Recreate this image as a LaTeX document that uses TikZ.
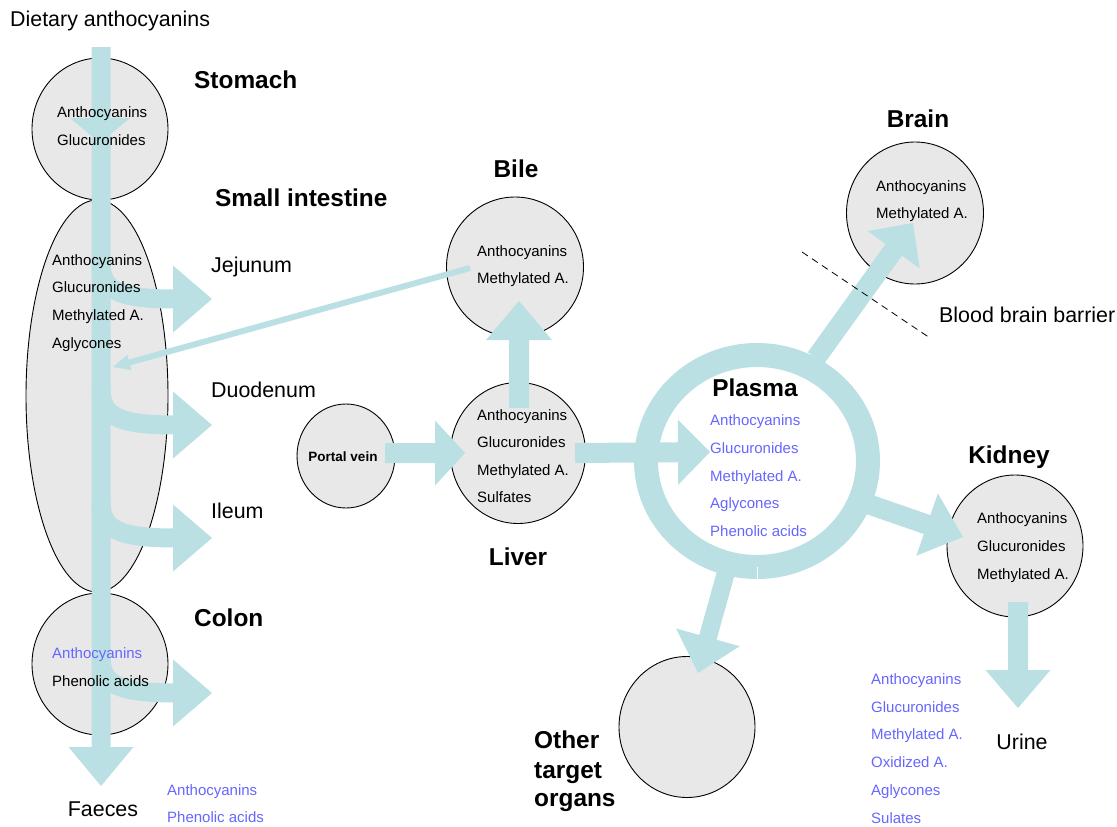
\documentclass[tikz,border=0pt]{standalone}
\usepackage{fontspec}
\setmainfont{Liberation Sans}
\usetikzlibrary{calc,shapes.geometric}
\definecolor{flowc}{RGB}{186,224,227}
\definecolor{organc}{RGB}{232,232,232}
\definecolor{bluet}{RGB}{102,102,255}
% #1 start, #2 tip, #3 half shaft width, #4 head length, #5 half head width
\newcommand{\fatarrow}[5]{%
  \path ($(#2)!#4pt!(#1)$) coordinate (fab);
  \fill[flow] ($(#1)!#3pt!90:(#2)$) -- ($(fab)!#3pt!90:(#2)$) -- ($(fab)!#5pt!90:(#2)$) -- (#2)
    -- ($(fab)!#5pt!-90:(#2)$) -- ($(fab)!#3pt!-90:(#2)$) -- ($(#1)!#3pt!-90:(#2)$) -- cycle;}
% branch arrow out of the main intestinal flow, #1 = centre y of the branch, #2 = name
\newcommand{\branch}[2]{%
  \coordinate (#2) at (212,#1);
  \draw[flowline] (101,#1-36) .. controls (101,#1-9) and (118,#1) .. (175,#1);
  \fill[flow] ($(#2)+(-39,-33.5)$) -- (#2) -- ($(#2)+(-39,33.5)$) -- cycle;}
\begin{document}
\begin{tikzpicture}[x=1pt,y=-1pt,
  organ/.style={ellipse, draw=black, line width=0.9pt, fill=organc, inner sep=0pt},
  flow/.style={fill=flowc},
  flowline/.style={draw=flowc, line width=19pt},
  txt/.style={inner sep=0pt, anchor=west, font=\fontsize{15}{18}\selectfont, text height=14.5pt, text depth=3pt},
  btxt/.style={txt, text=bluet},
  mid/.style={inner sep=0pt, anchor=west, font=\fontsize{21.4}{25}\selectfont, text height=19pt, text depth=4.3pt},
  ttl/.style={inner sep=0pt, anchor=center, font=\bfseries\fontsize{24.4}{28}\selectfont, text height=21.5pt, text depth=5pt},
  ttlw/.style={ttl, anchor=west}]
\useasboundingbox (0,0) rectangle (1117,827);

% organs
\node[organ, minimum width=136pt, minimum height=142pt] (stomach) at (100,129) {};
\node[organ, minimum width=142pt, minimum height=392pt] (intestine) at (97,396) {};
\node[organ, minimum width=136pt, minimum height=142pt] (colon) at (100,664) {};
\node[organ, minimum width=98pt, minimum height=104pt] (portal) at (346,456) {};
\node[organ, minimum width=137pt, minimum height=140pt] (bile) at (515,267) {};
\node[organ, minimum width=135pt, minimum height=141pt] (liver) at (518,453) {};
\node[organ, minimum width=137pt, minimum height=142pt] (brain) at (915,213) {};
\node[organ, minimum width=136pt, minimum height=142pt] (kidney) at (1015,546) {};
\node[organ, minimum width=136pt, minimum height=141pt] (other) at (687,727) {};
\node[ellipse, draw=flowc, line width=24pt, minimum width=222pt, minimum height=212pt, inner sep=0pt] (plasma) at (757,461) {};
\draw[white, line width=0.8pt] (plasma.south) ++(0,-12) -- ++(0,24);

% flows
\coordinate (intop) at (101,47);
\coordinate (faetip) at (101,786);
\fatarrow{intop}{faetip}{9.5}{39}{32.5}
\coordinate (stomtip) at (100,143);
\fill[flow] ($(stomtip)+(-30,-25)$) -- (stomtip) -- ($(stomtip)+(30,-25)$) -- cycle;
\branch{299}{jejtip}
\branch{425}{duotip}
\branch{538}{iletip}
\branch{693}{coltip}

\coordinate (pvout) at (385,453);
\coordinate (livin) at (465,453);
\fatarrow{pvout}{livin}{10}{30}{32.5}
\coordinate (livup) at (519,408);
\coordinate (bilein) at (519,301);
\fatarrow{livup}{bilein}{10}{39}{33}
\coordinate (bileout) at (470,268);
\coordinate (siin) at (113,367);
\fatarrow{bileout}{siin}{3}{17}{8}
\coordinate (livout) at (575,453);
\coordinate (plin) at (710,452);
\fatarrow{livout}{plin}{10}{32}{32.5}
\coordinate (plbrain) at (816,358);
\coordinate (brainin) at (913,223);
\fatarrow{plbrain}{brainin}{10}{33}{32}
\coordinate (plkid) at (862,502);
\coordinate (kidin) at (963,537);
\fatarrow{plkid}{kidin}{10}{38}{33}
\coordinate (plother) at (728,565);
\coordinate (otherin) at (698,673);
\fatarrow{plother}{otherin}{9}{37}{33}
\coordinate (kidout) at (1018,602);
\coordinate (urinetip) at (1018,708);
\fatarrow{kidout}{urinetip}{10}{38}{32.5}

% blood brain barrier
\coordinate (bbbA) at (802,252);
\coordinate (bbbB) at (930,338);
\draw[black, line width=0.8pt, dash pattern=on 7pt off 5pt] (bbbA) -- (bbbB);

% labels
\node[mid] (diet) at (10,19) {Dietary anthocyanins};
\node[ttlw] (lstom) at (194,80) {Stomach};
\node[ttlw] (lsi) at (215,198) {Small intestine};
\node[mid] (ljej) at (211,265) {Jejunum};
\node[mid] (lduo) at (211,390) {Duodenum};
\node[mid] (lile) at (211,511) {Ileum};
\node[ttlw] (lcol) at (194,618) {Colon};
\node[mid, anchor=center] (lfae) at (103,809) {Faeces};

\node[txt] (st1) at (57,112) {Anthocyanins};
\node[txt] (st2) at (57,140) {Glucuronides};
\node[txt] (si1) at (52,260) {Anthocyanins};
\node[txt] (si2) at (52,287) {Glucuronides};
\node[txt] (si3) at (52,315) {Methylated A.};
\node[txt] (si4) at (52,343) {Aglycones};
\node[btxt] (co1) at (52,653) {Anthocyanins};
\node[txt] (co2) at (52,681) {Phenolic acids};
\node[btxt] (fa1) at (167,790) {Anthocyanins};
\node[btxt] (fa2) at (167,817) {Phenolic acids};

\node[inner sep=0pt, font=\bfseries\fontsize{13.5}{16}\selectfont] (lpv) at (343,457) {Portal vein};
\node[ttl] (lbile) at (516,169) {Bile};
\node[txt] (bi1) at (477,251) {Anthocyanins};
\node[txt] (bi2) at (477,278) {Methylated A.};
\node[txt] (li1) at (477,415) {Anthocyanins};
\node[txt] (li2) at (477,442) {Glucuronides};
\node[txt] (li3) at (477,470) {Methylated A.};
\node[txt] (li4) at (477,497) {Sulfates};
\node[ttl] (lliver) at (518,557) {Liver};

\node[ttl] (lplasma) at (755,388) {Plasma};
\node[btxt] (pl1) at (710,420) {Anthocyanins};
\node[btxt] (pl2) at (710,448) {Glucuronides};
\node[btxt] (pl3) at (710,476) {Methylated A.};
\node[btxt] (pl4) at (710,503) {Aglycones};
\node[btxt] (pl5) at (710,531) {Phenolic acids};

\node[ttl] (lbrain) at (918,119) {Brain};
\node[txt] (br1) at (876,186) {Anthocyanins};
\node[txt] (br2) at (876,213) {Methylated A.};
\node[mid] (lbbb) at (939,315) {Blood brain barrier};

\node[ttl] (lkid) at (1009,455) {Kidney};
\node[txt] (ki1) at (977,518) {Anthocyanins};
\node[txt] (ki2) at (977,546) {Glucuronides};
\node[txt] (ki3) at (977,574) {Methylated A.};
\node[mid, anchor=center] (lurine) at (1022,742) {Urine};
\node[btxt] (ur1) at (871,679) {Anthocyanins};
\node[btxt] (ur2) at (871,707) {Glucuronides};
\node[btxt] (ur3) at (871,734) {Methylated A.};
\node[btxt] (ur4) at (871,762) {Oxidized A.};
\node[btxt] (ur5) at (871,790) {Aglycones};
\node[btxt] (ur6) at (871,818) {Sulates};

\node[ttlw] (lot1) at (534,740) {Other};
\node[ttlw] (lot2) at (534,770) {target};
\node[ttlw] (lot3) at (534,798) {organs};
\end{tikzpicture}
\end{document}
